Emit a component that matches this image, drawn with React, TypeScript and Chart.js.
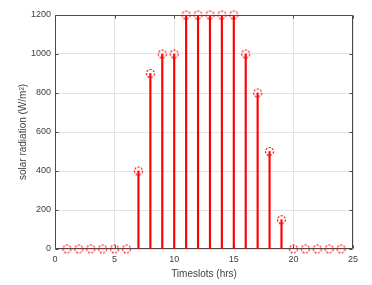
import React, { useEffect, useRef } from "react";
import { Chart, registerables } from "chart.js";

Chart.register(...registerables);

const timeslots = [1, 2, 3, 4, 5, 6, 7, 8, 9, 10, 11, 12, 13, 14, 15, 16, 17, 18, 19, 20, 21, 22, 23, 24];
const radiation = [0, 0, 0, 0, 0, 0, 400, 900, 1000, 1000, 1200, 1200, 1200, 1200, 1200, 1000, 800, 500, 150, 0, 0, 0, 0, 0];
const xTickValues = [0, 5, 10, 15, 20, 25];
const yTickValues = [0, 200, 400, 600, 800, 1000, 1200];
const xTitle = "Timeslots (hrs)";
const yTitle = "solar radiation (W/m²)";

const FONT = "'Liberation Sans', Arial, Helvetica, sans-serif";
const AXIS_COLOR = "#4a4a4a";
const TEXT_COLOR = "#404040";

function makeMarker(): HTMLCanvasElement {
  const c = document.createElement("canvas");
  c.width = 11;
  c.height = 11;
  const g = c.getContext("2d")!;
  g.strokeStyle = "rgb(255,0,0)";
  g.lineWidth = 1.2;
  g.setLineDash([2, 1.5]);
  g.beginPath();
  g.arc(5.5, 5.5, 4, 0, Math.PI * 2);
  g.stroke();
  return c;
}

const boxPlugin = {
  id: "matlabBox",
  beforeDatasetsDraw(chart: any) {
    const { ctx, chartArea, scales } = chart;
    const { left, right, top, bottom } = chartArea;
    const x = scales.x;
    const y = scales.y;
    ctx.save();
    ctx.strokeStyle = AXIS_COLOR;
    ctx.lineWidth = 1;
    const L = Math.round(left) + 0.5;
    const R = Math.round(right) - 0.5;
    const T = Math.round(top) + 0.5;
    const B = Math.round(bottom) - 0.5;
    ctx.beginPath();
    ctx.rect(L, T, R - L, B - T);
    ctx.stroke();
    const tl = 3;
    ctx.beginPath();
    xTickValues.forEach((v) => {
      const px = Math.round(x.getPixelForValue(v)) + 0.5;
      ctx.moveTo(px, B);
      ctx.lineTo(px, B - tl);
      ctx.moveTo(px, T);
      ctx.lineTo(px, T + tl);
    });
    yTickValues.forEach((v) => {
      const py = Math.round(y.getPixelForValue(v)) + 0.5;
      ctx.moveTo(L, py);
      ctx.lineTo(L + tl, py);
      ctx.moveTo(R, py);
      ctx.lineTo(R - tl, py);
    });
    ctx.stroke();
    ctx.restore();
  },
};

export default function App() {
  const ref = useRef<HTMLCanvasElement>(null);
  useEffect(() => {
    document.body.style.margin = "0";
    const marker = makeMarker();
    const points = timeslots.map((t, i) => ({ x: t, y: radiation[i] }));
    const chart = new Chart(ref.current!, {
      type: "bar",
      data: {
        datasets: [
          {
            type: "scatter",
            data: points,
            pointStyle: marker as any,
            pointRadius: 5,
            showLine: false,
            clip: false,
            order: 0,
          } as any,
          {
            type: "bar",
            data: points,
            backgroundColor: "rgb(255,0,0)",
            borderWidth: 0,
            barThickness: 1.5,
            order: 1,
          } as any,
        ],
      },
      options: {
        animation: false,
        responsive: false,
        devicePixelRatio: 1,
        layout: { padding: { left: 0, right: 19, top: 15, bottom: 0 } },
        plugins: { legend: { display: false }, tooltip: { enabled: false } },
        scales: {
          x: {
            type: "linear",
            min: 0,
            max: 25,
            offset: false,
            afterBuildTicks: (s: any) => {
              s.ticks = xTickValues.map((v) => ({ value: v }));
            },
            afterFit: (s: any) => {
              s.height = 36;
            },
            grid: { color: "#e3e3e3", drawTicks: false, offset: false },
            border: { display: false },
            ticks: {
              padding: 5,
              color: TEXT_COLOR,
              font: { family: FONT, size: 9 },
              maxRotation: 0,
              callback: (v: any) => String(v),
            },
            title: {
              display: true,
              text: xTitle,
              color: TEXT_COLOR,
              font: { family: FONT, size: 10 },
              padding: { top: 0, bottom: 5 },
            },
          },
          y: {
            type: "linear",
            min: 0,
            max: 1200,
            afterBuildTicks: (s: any) => {
              s.ticks = yTickValues.map((v) => ({ value: v }));
            },
            afterFit: (s: any) => {
              s.width = 55;
            },
            grid: { color: "#e3e3e3", drawTicks: false },
            border: { display: false },
            ticks: {
              padding: 4,
              color: TEXT_COLOR,
              font: { family: FONT, size: 9 },
              callback: (v: any) => String(v),
            },
            title: {
              display: true,
              text: yTitle,
              color: TEXT_COLOR,
              font: { family: FONT, size: 10 },
              padding: { top: 17, bottom: 0 },
            },
          },
        },
      },
      plugins: [boxPlugin],
    });
    return () => chart.destroy();
  }, []);
  return (
    <canvas
      ref={ref}
      width={372}
      height={285}
      style={{ display: "block", width: 372, height: 285 }}
    />
  );
}
